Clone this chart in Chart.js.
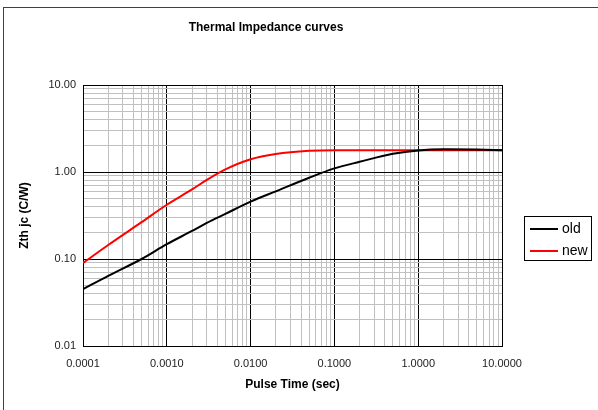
<!DOCTYPE html>
<html>
<head>
<meta charset="utf-8">
<title>Thermal Impedance curves</title>
<script src="https://cdn.jsdelivr.net/npm/chart.js@4.4.0/dist/chart.umd.min.js"></script>
<style>
  html, body { margin: 0; padding: 0; background: #fff; }
  #wrap { width: 598px; height: 410px; position: relative; }
</style>
</head>
<body>
<div id="wrap"><canvas id="myChart" width="598" height="410"></canvas></div>
<script>
// values
const pulseTimes = [0.0001, 0.0002, 0.0005, 0.001, 0.002, 0.003, 0.005, 0.01, 0.02, 0.05, 0.1, 0.2, 0.5, 1, 2, 5, 10];
const oldZth = [0.045, 0.064, 0.1, 0.148, 0.21, 0.26, 0.33, 0.456, 0.6, 0.86, 1.10, 1.31, 1.62, 1.77, 1.82, 1.81, 1.78];
const newZth = [0.09, 0.145, 0.265, 0.42, 0.63, 0.81, 1.07, 1.40, 1.61, 1.75, 1.78, 1.78, 1.78, 1.78, 1.78, 1.78, 1.78];

const xTickValues = [0.0001, 0.001, 0.01, 0.1, 1, 10];
const xTickLabels = ['0.0001', '0.0010', '0.0100', '0.1000', '1.0000', '10.0000'];
const yTickValues = [0.01, 0.1, 1, 10];
const yTickLabels = ['0.01', '0.10', '1.00', '10.00'];

const seriesNames = ['old', 'new'];
const seriesColors = ['#000000', '#ff0000'];

// 1..9 in every decade, so the minor grid lines show up
function decadeTicks(majors) {
  const ticks = [];
  for (let i = 0; i < majors.length; i++) {
    if (i === majors.length - 1) {
      ticks.push({value: majors[i]});
      break;
    }
    for (let k = 1; k <= 9; k++) {
      ticks.push({value: majors[i] * k});
    }
  }
  return ticks;
}

function isMajor(v) {
  const l = Math.log10(v);
  return Math.abs(l - Math.round(l)) < 1e-9;
}

function labelFor(values, labels, v) {
  for (let i = 0; i < values.length; i++) {
    if (Math.abs(values[i] - v) / values[i] < 1e-6) return labels[i];
  }
  return '';
}

function toPoints(xs, ys) {
  return xs.map((x, i) => ({x: x, y: ys[i]}));
}

// title, legend box and outer frame
const decorations = {
  id: 'decorations',
  beforeDraw(chart) {
    const c = chart.ctx;
    c.save();
    c.fillStyle = '#fff';
    c.fillRect(0, 0, chart.width, chart.height);
    c.strokeStyle = '#404040';
    c.lineWidth = 1;
    c.strokeRect(3.5, 7.5, 700, 500);
    c.restore();
  },
  afterDraw(chart) {
    const c = chart.ctx;
    c.save();
    c.fillStyle = '#000';
    c.font = 'bold 12px "Liberation Sans", Arial, sans-serif';
    c.textAlign = 'center';
    c.textBaseline = 'middle';
    c.fillText('Thermal Impedance curves', 266, 28);

    // legend
    c.strokeStyle = '#000';
    c.lineWidth = 1;
    c.strokeRect(524.5, 216.5, 67, 44);
    c.font = '14px "Liberation Sans", Arial, sans-serif';
    c.textAlign = 'left';
    for (let i = 0; i < seriesNames.length; i++) {
      const y = 229 + i * 22;
      c.strokeStyle = seriesColors[i];
      c.lineWidth = 2;
      c.beginPath();
      c.moveTo(530, y);
      c.lineTo(558, y);
      c.stroke();
      c.fillStyle = '#000';
      c.fillText(seriesNames[i], 562, y);
    }
    c.restore();
  }
};

const ctx = document.getElementById('myChart');
new Chart(ctx, {
  type: 'line',
  data: {
    datasets: [
      {
        label: seriesNames[0],
        data: toPoints(pulseTimes, oldZth),
        borderColor: seriesColors[0],
        borderWidth: 2,
        pointRadius: 0,
        cubicInterpolationMode: 'monotone'
      },
      {
        label: seriesNames[1],
        data: toPoints(pulseTimes, newZth),
        borderColor: seriesColors[1],
        borderWidth: 2,
        pointRadius: 0,
        cubicInterpolationMode: 'monotone'
      }
    ]
  },
  options: {
    responsive: false,
    animation: false,
    layout: { padding: { left: 0, top: 85, right: 96, bottom: 0 } },
    plugins: {
      legend: { display: false },
      title: { display: false },
      tooltip: { enabled: false }
    },
    scales: {
      x: {
        type: 'logarithmic',
        min: 0.0001,
        max: 10,
        afterBuildTicks: scale => { scale.ticks = decadeTicks(xTickValues); },
        afterFit: scale => { scale.height = 64; },
        border: { display: true, color: '#000', width: 1 },
        grid: {
          drawTicks: false,
          color: c => isMajor(c.tick.value) ? '#000' : '#c0c0c0',
          lineWidth: 1
        },
        ticks: {
          autoSkip: false,
          maxRotation: 0,
          padding: 11,
          color: '#222',
          font: { family: '"Liberation Sans", Arial, sans-serif', size: 11 },
          callback: v => labelFor(xTickValues, xTickLabels, v)
        },
        title: {
          display: true,
          text: 'Pulse Time (sec)',
          color: '#000',
          font: { family: '"Liberation Sans", Arial, sans-serif', size: 12, weight: 'bold' },
          padding: { top: 0, bottom: 18 }
        }
      },
      y: {
        type: 'logarithmic',
        min: 0.01,
        max: 10,
        afterBuildTicks: scale => { scale.ticks = decadeTicks(yTickValues); },
        afterFit: scale => { scale.width = 83; },
        border: { display: true, color: '#000', width: 1 },
        grid: {
          drawTicks: false,
          color: c => isMajor(c.tick.value) ? '#000' : '#c0c0c0',
          lineWidth: 1
        },
        ticks: {
          autoSkip: false,
          padding: 7,
          color: '#222',
          font: { family: '"Liberation Sans", Arial, sans-serif', size: 11 },
          callback: v => labelFor(yTickValues, yTickLabels, v)
        },
        title: {
          display: true,
          text: 'Zth jc (C/W)',
          color: '#000',
          font: { family: '"Liberation Sans", Arial, sans-serif', size: 12, weight: 'bold' },
          padding: { top: 17, bottom: 0 }
        }
      }
    }
  },
  plugins: [decorations]
});
</script>
</body>
</html>
